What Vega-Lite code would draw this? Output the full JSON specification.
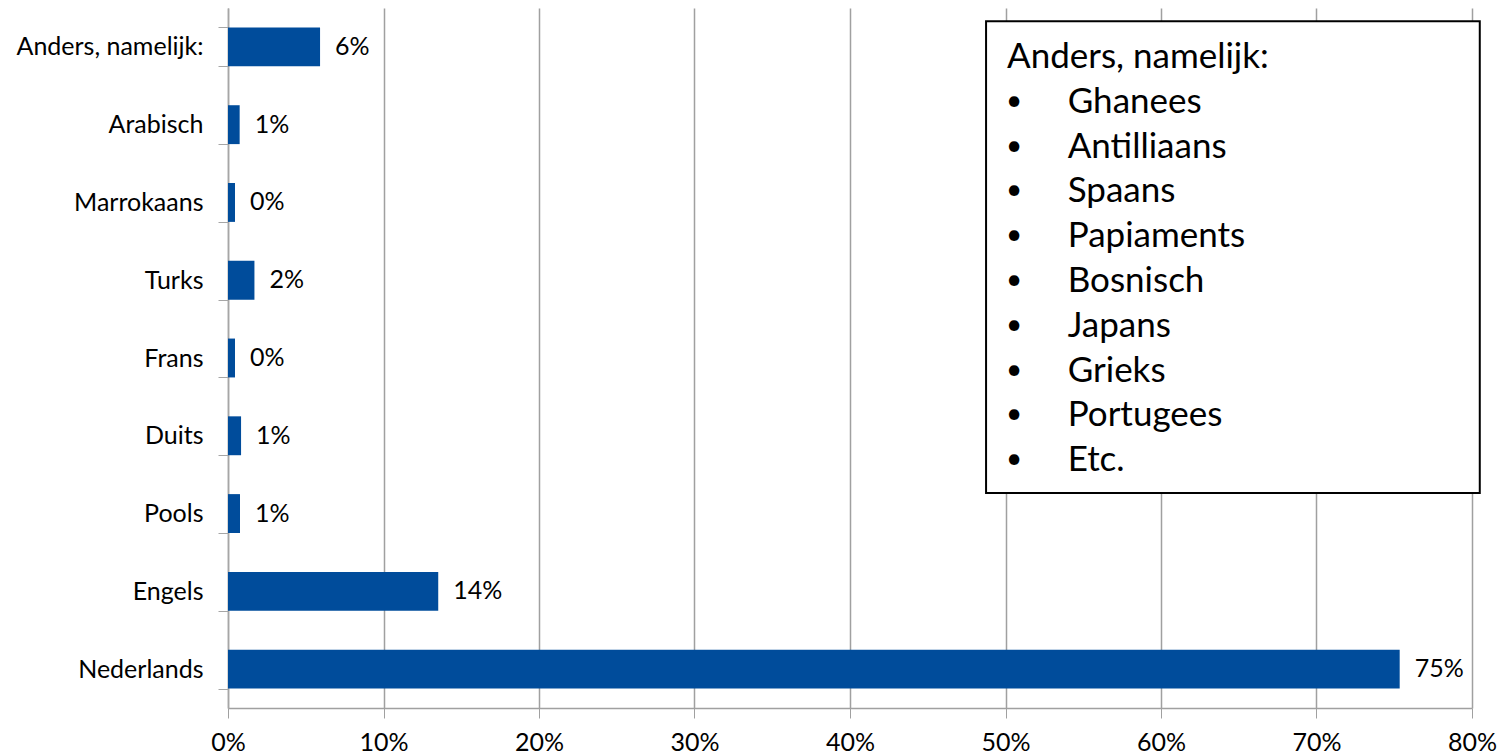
{
  "$schema": "https://vega.github.io/schema/vega-lite/v6.json",
  "width": 1244,
  "height": 700,
  "autosize": "none",
  "padding": {"left": 228, "top": 8, "right": 27, "bottom": 47},
  "background": "white",
  "config": {"view": {"stroke": null}, "font": "Lato"},
  "datasets": {
    "talen": [
      {"taal": "Anders, namelijk:", "aandeel": 0.0592},
      {"taal": "Arabisch", "aandeel": 0.0075},
      {"taal": "Marrokaans", "aandeel": 0.0045},
      {"taal": "Turks", "aandeel": 0.017},
      {"taal": "Frans", "aandeel": 0.0045},
      {"taal": "Duits", "aandeel": 0.0084},
      {"taal": "Pools", "aandeel": 0.0077},
      {"taal": "Engels", "aandeel": 0.1352},
      {"taal": "Nederlands", "aandeel": 0.7535}
    ],
    "kader": [{"links": 0.4875, "rechts": 0.805, "boven": -0.8, "onder": 9.73}],
    "opsomming": [
      {"regel": 0, "soort": "kop", "tekst": "Anders, namelijk:"},
      {"regel": 1, "soort": "item", "tekst": "Ghanees"},
      {"regel": 2, "soort": "item", "tekst": "Antilliaans"},
      {"regel": 3, "soort": "item", "tekst": "Spaans"},
      {"regel": 4, "soort": "item", "tekst": "Papiaments"},
      {"regel": 5, "soort": "item", "tekst": "Bosnisch"},
      {"regel": 6, "soort": "item", "tekst": "Japans"},
      {"regel": 7, "soort": "item", "tekst": "Grieks"},
      {"regel": 8, "soort": "item", "tekst": "Portugees"},
      {"regel": 9, "soort": "item", "tekst": "Etc."}
    ]
  },
  "resolve": {"scale": {"y": "independent"}},
  "layer": [
    {
      "data": {"name": "talen"},
      "mark": {"type": "bar", "color": "#004C9B"},
      "encoding": {
        "y": {
          "field": "taal", "type": "nominal",
          "sort": ["Anders, namelijk:", "Arabisch", "Marrokaans", "Turks", "Frans", "Duits", "Pools", "Engels", "Nederlands"],
          "scale": {"paddingInner": 0.5, "paddingOuter": 0.25},
          "axis": {
            "title": null, "tickBand": "extent", "tickSize": 10, "tickColor": "#a6a6a6",
            "domainColor": "#a6a6a6", "domainWidth": 1.5, "labelFontSize": 25, "labelColor": "#000000",
            "labelPadding": 15, "labelFont": "Lato", "labelLimit": 400
          }
        },
        "x": {
          "field": "aandeel", "type": "quantitative",
          "scale": {"domain": [0, 0.8]},
          "axis": {
            "title": null, "format": ".0%", "values": [0, 0.1, 0.2, 0.3, 0.4, 0.5, 0.6, 0.7, 0.8],
            "grid": true, "gridColor": "#a0a0a0", "gridWidth": 1.5, "tickSize": 10, "tickColor": "#a0a0a0",
            "domainColor": "#a0a0a0", "domainWidth": 1.5, "labelFontSize": 25, "labelColor": "#000000",
            "labelPadding": 12, "labelFont": "Lato", "labelFlush": false
          }
        }
      }
    },
    {
      "data": {"name": "talen"},
      "mark": {"type": "text", "align": "left", "baseline": "middle", "dx": 15, "fontSize": 25, "color": "#000000"},
      "encoding": {
        "y": {"field": "taal", "type": "nominal", "sort": ["Anders, namelijk:", "Arabisch", "Marrokaans", "Turks", "Frans", "Duits", "Pools", "Engels", "Nederlands"], "scale": {"paddingInner": 0.5, "paddingOuter": 0.25}, "axis": null},
        "x": {"field": "aandeel", "type": "quantitative"},
        "text": {"field": "aandeel", "type": "quantitative", "format": ".0%"}
      }
    },
    {
      "data": {"name": "kader"},
      "mark": {"type": "rect", "fill": "white", "stroke": "#000000", "strokeWidth": 2},
      "encoding": {
        "x": {"field": "links", "type": "quantitative"},
        "x2": {"field": "rechts"},
        "y": {"field": "boven", "type": "quantitative", "scale": {"domain": [-1.094, 14.53], "reverse": true}, "axis": null},
        "y2": {"field": "onder"}
      }
    },
    {
      "data": {"name": "opsomming"},
      "transform": [{"filter": "datum.soort == 'kop'"}],
      "mark": {"type": "text", "align": "left", "baseline": "middle", "fontSize": 35, "color": "#000000"},
      "encoding": {
        "x": {"datum": 0.501, "type": "quantitative"},
        "y": {"field": "regel", "type": "quantitative", "scale": {"domain": [-1.094, 14.53], "reverse": true}, "axis": null},
        "text": {"field": "tekst"}
      }
    },
    {
      "data": {"name": "opsomming"},
      "transform": [{"filter": "datum.soort == 'item'"}],
      "mark": {"type": "text", "align": "center", "baseline": "middle", "fontSize": 28, "color": "#000000", "text": "•"},
      "encoding": {
        "x": {"datum": 0.5055, "type": "quantitative"},
        "y": {"field": "regel", "type": "quantitative", "scale": {"domain": [-1.094, 14.53], "reverse": true}, "axis": null}
      }
    },
    {
      "data": {"name": "opsomming"},
      "transform": [{"filter": "datum.soort == 'item'"}],
      "mark": {"type": "text", "align": "left", "baseline": "middle", "fontSize": 35, "color": "#000000"},
      "encoding": {
        "x": {"datum": 0.540, "type": "quantitative"},
        "y": {"field": "regel", "type": "quantitative", "scale": {"domain": [-1.094, 14.53], "reverse": true}, "axis": null},
        "text": {"field": "tekst"}
      }
    }
  ]
}
